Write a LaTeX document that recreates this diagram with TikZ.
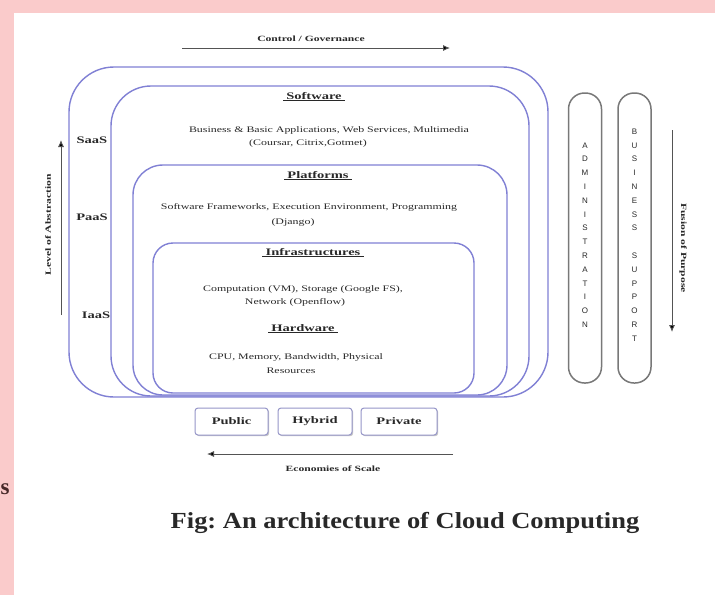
\documentclass[tikz,border=0pt]{standalone}
\usepackage{fontspec}
\setmainfont{Liberation Serif}
\newfontfamily\diagfont[FakeStretch=1.4]{Liberation Serif}
\newfontfamily\headfont[FakeStretch=1.45]{Liberation Serif}
\newfontfamily\pillfont{Liberation Sans}
\newfontfamily\capfont[FakeStretch=1.15]{Liberation Serif}
\usetikzlibrary{arrows.meta,shadows}

\definecolor{pinkbg}{RGB}{250,203,203}
\definecolor{layerblue}{RGB}{128,128,212}
\definecolor{inkgray}{RGB}{40,40,40}
\definecolor{pillgray}{RGB}{120,120,120}
\definecolor{modelblue}{RGB}{150,150,200}
\definecolor{capmaroon}{RGB}{70,40,40}

\begin{document}
\begin{tikzpicture}[x=1pt,y=-1pt,
  layer/.style={draw=layerblue, line width=1.4pt, inner sep=0pt},
  heading/.style={font=\headfont\bfseries\fontsize{10}{12}\selectfont, text=inkgray, inner sep=1pt},
  body/.style={font=\diagfont\fontsize{8.5}{12.5}\selectfont, text=inkgray, inner sep=0pt, align=center},
  tier/.style={font=\headfont\bfseries\fontsize{10}{12}\selectfont, text=inkgray, inner sep=0pt},
  pill/.style={draw=pillgray, line width=1.5pt, rounded corners=16pt, minimum width=33pt, minimum height=290pt, inner sep=0pt},
  letters/.style={font=\pillfont\fontsize{8}{13.8}\selectfont, align=center, text=inkgray, inner sep=0pt},
  model/.style={draw=modelblue, line width=1pt, rounded corners=3pt, minimum height=27pt, inner sep=0pt, fill=white,
    drop shadow={shadow xshift=1.2pt, shadow yshift=-1.2pt, fill=gray!55, opacity=0.8},
    font=\headfont\bfseries\fontsize{10}{12}\selectfont, text=inkgray},
  axislabel/.style={font=\headfont\bfseries\fontsize{8}{10}\selectfont, text=inkgray, inner sep=0pt},
  flow/.style={draw=gray!65!black, line width=0.9pt, -{Latex[length=7pt,width=6pt,fill=black]}},
  rule/.style={draw=inkgray, line width=1pt}
]
\useasboundingbox (0,0) rectangle (715,595);
\clip (0,0) rectangle (715,595);

% page background and pink margins
\fill[white] (0,0) rectangle (715,595);
\fill[pinkbg] (0,0) rectangle (715,13);
\fill[pinkbg] (0,0) rectangle (14,595);
\node[font=\fontsize{23}{25}\selectfont\bfseries, text=capmaroon, inner sep=0pt] (edge) at (5,489) {s};

% nested service layers
\node[layer, rounded corners=45pt, minimum width=479pt, minimum height=330pt] (saas) at (308.5,232) {};
\node[layer, rounded corners=40pt, minimum width=418pt, minimum height=310pt] (software) at (320,241) {};
\node[layer, rounded corners=30pt, minimum width=374pt, minimum height=230pt] (platform) at (320,280) {};
\node[layer, rounded corners=20pt, minimum width=321pt, minimum height=150pt] (infra) at (313.5,318) {};

% software layer text
\node[heading] (swhead) at (314,96) {Software};
\draw[rule] ([xshift=-2pt]swhead.south west) -- ([xshift=2pt]swhead.south east);
\node[body] (swtext1) at (329,130) {Business \& Basic Applications, Web Services, Multimedia};
\node[body] (swtext2) at (308,143) {(Coursar, Citrix,Gotmet)};

% platform layer text
\node[heading] (plhead) at (318,175) {Platforms};
\draw[rule] ([xshift=-2pt]plhead.south west) -- ([xshift=2pt]plhead.south east);
\node[body] (pltext1) at (309,207) {Software Frameworks, Execution Environment, Programming};
\node[body] (pltext2) at (293,222) {(Django)};

% infrastructure layer text
\node[heading] (ifhead) at (313,252) {Infrastructures};
\draw[rule] ([xshift=-2pt]ifhead.south west) -- ([xshift=2pt]ifhead.south east);
\node[body] (iftext1) at (303,289) {Computation (VM), Storage (Google FS),};
\node[body] (iftext2) at (295,302) {Network (Openflow)};

\node[heading] (hwhead) at (303,328) {Hardware};
\draw[rule] ([xshift=-2pt]hwhead.south west) -- ([xshift=2pt]hwhead.south east);
\node[body] (hwtext1) at (296,357) {CPU, Memory, Bandwidth, Physical};
\node[body] (hwtext2) at (291,371) {Resources};

% service tiers
\node[tier] (saaslbl) at (92,140) {SaaS};
\node[tier] (paaslbl) at (92,217) {PaaS};
\node[tier] (iaaslbl) at (96,315) {IaaS};

% level of abstraction axis
\coordinate (absbot) at (61,315);
\coordinate (abstop) at (61,140);
\draw[flow] (absbot) -- (abstop);
\node[axislabel, rotate=90] (abslbl) at (48,225) {Level of Abstraction};

% control / governance axis
\coordinate (ctlstart) at (182,48);
\coordinate (ctlend) at (450,48);
\draw[flow] (ctlstart) -- (ctlend);
\node[axislabel] (ctllbl) at (311,39) {Control / Governance};

% side pillars
\node[pill] (admin) at (585,238) {};
\node[letters] (adminlbl) at (585,235) {A\\D\\M\\I\\N\\I\\S\\T\\R\\A\\T\\I\\O\\N};
\node[pill] (business) at (634.5,238) {};
\node[letters] (businesslbl) at (634.5,235) {B\\U\\S\\I\\N\\E\\S\\S\\\mbox{}\\S\\U\\P\\P\\O\\R\\T};

% fusion of purpose axis
\coordinate (fustop) at (672,130);
\coordinate (fusbot) at (672,332);
\draw[flow] (fustop) -- (fusbot);
\node[axislabel, rotate=-90] (fuslbl) at (683,248) {Fusion of Purpose};

% deployment models
\node[model, minimum width=73pt] (public) at (231.5,421.5) {Public};
\node[model, minimum width=74pt] (hybrid) at (315,421.5) {Hybrid};
\node[model, minimum width=76pt] (private) at (399,421.5) {Private};

% economies of scale axis
\coordinate (ecostart) at (453,454);
\coordinate (ecoend) at (207,454);
\draw[flow] (ecostart) -- (ecoend);
\node[axislabel] (ecolbl) at (333,469) {Economies of Scale};

% caption
\node[font=\capfont\bfseries\fontsize{23}{26}\selectfont, text=inkgray, inner sep=0pt] (caption) at (405,523)
  {\frenchspacing Fig: An architecture of Cloud Computing};
\end{tikzpicture}
\end{document}
